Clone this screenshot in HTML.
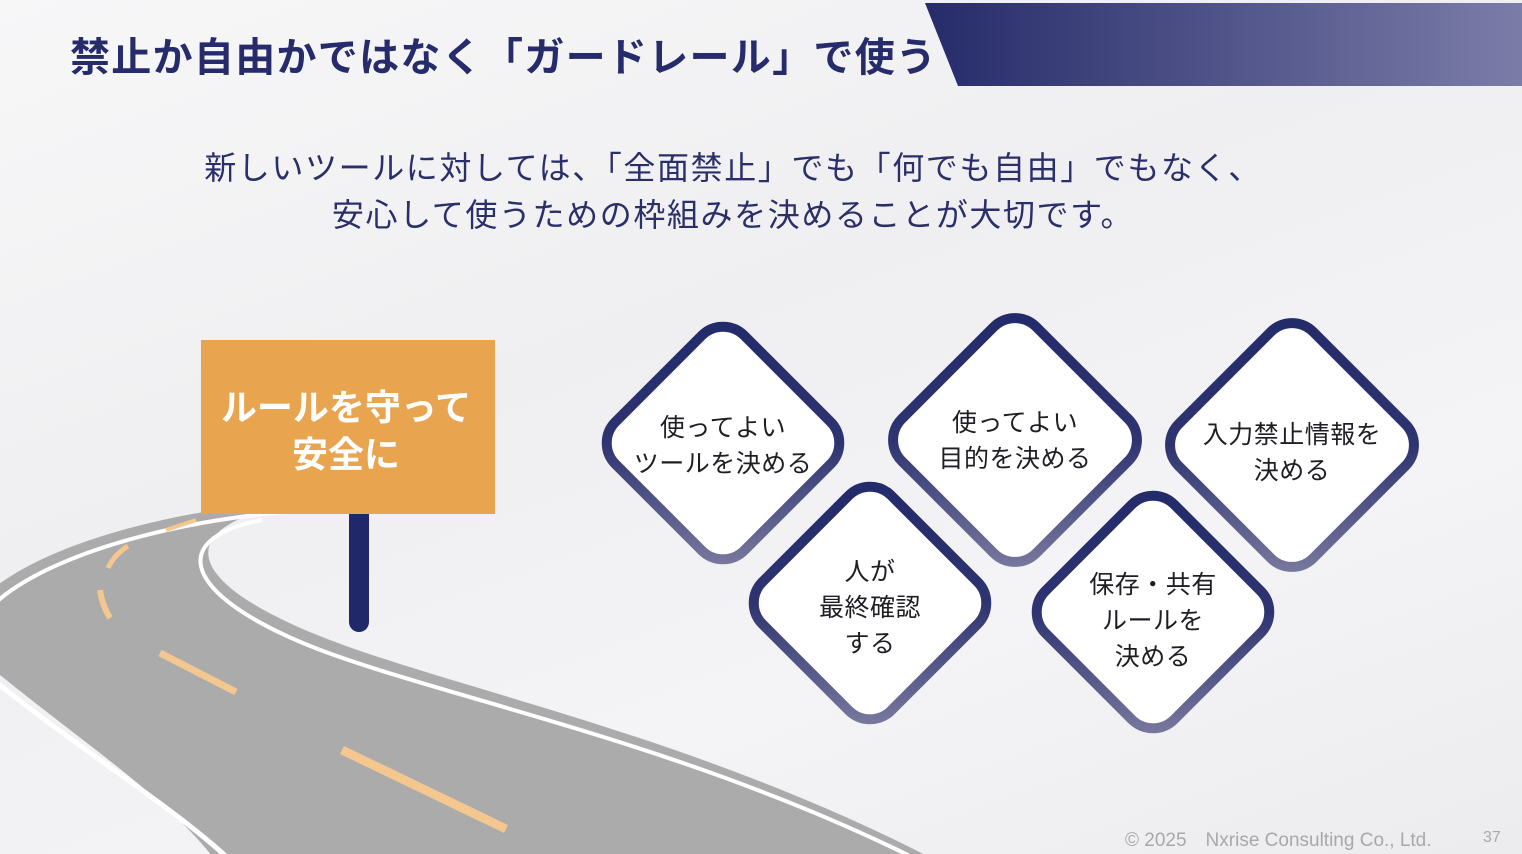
<!DOCTYPE html>
<html><head><meta charset="utf-8"><style>
body{margin:0}
#p{position:relative;width:1522px;height:854px;overflow:hidden;background:linear-gradient(160deg,#f7f7f8 0%,#efeff1 40%,#f4f4f6 70%,#ececee 100%);font-family:"Liberation Sans","Noto Sans CJK JP",sans-serif}
.t{position:absolute;white-space:nowrap}
.c{position:absolute;text-align:center;font-size:25px;line-height:36px;color:#1e1e24;transform:translate(-50%,-50%);white-space:nowrap;letter-spacing:0.5px}
</style></head><body><div id="p">
<svg width="1522" height="854" style="position:absolute;left:0;top:0">
<defs>
<linearGradient id="bar" x1="0" x2="1"><stop offset="0" stop-color="#262c6a"/><stop offset="1" stop-color="#7b7ca8"/></linearGradient>
<linearGradient id="g1" gradientUnits="objectBoundingBox" x1="0" y1="0" x2="1" y2="1"><stop offset="0" stop-color="#222a6a"/><stop offset="0.5" stop-color="#2e3470"/><stop offset="1" stop-color="#7c7ca0"/></linearGradient>
</defs>
<polygon points="925,3 1522,3 1522,86 958,86" fill="url(#bar)"/>
<path d="M360,498 C200,500 40,540 -20,600 C-40,630 -20,660 0,675 C80,740 170,800 215,860 L935,860 C700,738 460,690 330,640 C200,590 170,540 260,511 C290,502 330,498 360,498 Z" fill="#ababab"/>
<path d="M360,508 C205,510 50,550 -8,606" fill="none" stroke="#fff" stroke-width="4"/>
<path d="M-4,682 C80,750 172,806 230,860" fill="none" stroke="#fff" stroke-width="5"/>
<path d="M918,860 C690,746 455,700 323,651 C188,600 160,540 262,520" fill="none" stroke="#fff" stroke-width="4"/>
<g stroke="#f5c790" fill="none" stroke-linecap="butt">
<line x1="196" y1="520" x2="166" y2="530" stroke-width="4"/>
<path d="M128,546 Q114,555 108,568" stroke-width="5"/>
<path d="M100,590 Q102,605 110,618" stroke-width="6"/>
<line x1="160" y1="653" x2="236" y2="692" stroke-width="7"/>
<line x1="342" y1="750" x2="506" y2="829" stroke-width="9"/>
</g>
<rect x="349" y="505" width="20" height="127" rx="10" fill="#21286a"/>
<rect x="349" y="505" width="20" height="20" fill="#21286a"/>
<g fill="#fff" stroke="url(#g1)" stroke-width="10">
<rect x="-91" y="-91" width="182" height="182" rx="30" transform="translate(723,443) rotate(45)"/>
<rect x="-95" y="-95" width="190" height="190" rx="30" transform="translate(1015,440) rotate(45)"/>
<rect x="-95" y="-95" width="190" height="190" rx="30" transform="translate(1292,445) rotate(45)"/>
<rect x="-91" y="-91" width="182" height="182" rx="30" transform="translate(870,603) rotate(45)"/>
<rect x="-91" y="-91" width="182" height="182" rx="30" transform="translate(1153,612) rotate(45)"/>
</g>
</svg>
<div class="t" style="left:70px;top:30px;font-size:40px;font-weight:bold;color:#252b6b;letter-spacing:1.3px;line-height:56px">禁止か自由かではなく「ガードレール」で使う</div>
<div class="t" style="left:0;width:1466px;top:145px;text-align:center;font-size:32px;letter-spacing:1.6px;line-height:47px;color:#2a2f6a">新しいツールに対しては、「全面禁止」でも「何でも自由」でもなく、<br>安心して使うための枠組みを決めることが大切です。</div>
<div style="position:absolute;left:201px;top:340px;width:294px;height:174px;background:#e9a450"></div>
<div class="t" style="left:201px;width:290px;top:384px;color:#fff;font-weight:bold;font-size:36px;line-height:47px;text-align:center">ルールを守って<br>安全に</div>
<div class="c" style="left:723px;top:446px">使ってよい<br>ツールを決める</div>
<div class="c" style="left:1015px;top:441px">使ってよい<br>目的を決める</div>
<div class="c" style="left:1292px;top:453px">入力禁止情報を<br>決める</div>
<div class="c" style="left:870px;top:608px">人が<br>最終確認<br>する</div>
<div class="c" style="left:1153px;top:621px">保存・共有<br>ルールを<br>決める</div>
<div class="t" style="left:1125px;top:825px;font-size:19px;color:#a8a8ac">© 2025　Nxrise Consulting Co., Ltd.</div>
<div class="t" style="left:1483px;top:829px;font-size:16px;color:#a8a8ac">37</div>
</div></body></html>
